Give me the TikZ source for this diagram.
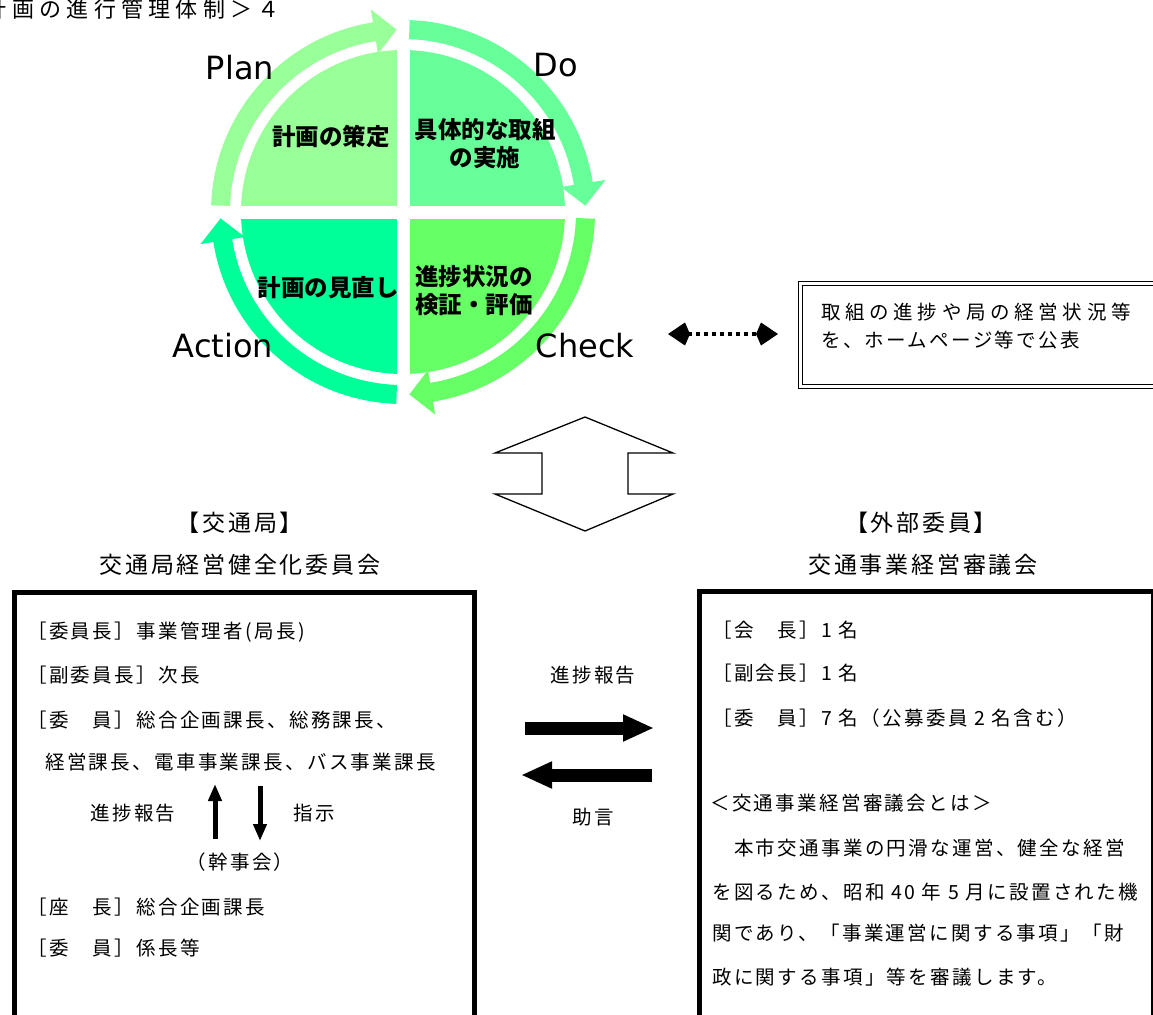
\documentclass[tikz,border=0pt]{standalone}
\usepackage{fontspec}
\setmainfont{Noto Sans CJK JP}
\newfontfamily\boxfont{Noto Sans CJK JP}[LetterSpace=12]
\newfontfamily\widefont{Noto Sans CJK JP}[LetterSpace=24]
\newfontfamily\latinfont{DejaVu Sans}
\usetikzlibrary{arrows.meta, positioning}
\definecolor{plangreen}{HTML}{99FF99}
\definecolor{dogreen}{HTML}{66FF99}
\definecolor{checkgreen}{HTML}{66FF66}
\definecolor{actgreen}{HTML}{00FF99}
\tikzset{
    x=1pt, y=-1pt, % one unit is one pixel, y runs downwards
    quadtext/.style={font=\bfseries\fontsize{23.5}{28}\selectfont, align=center, inner sep=0pt}, % text in the four quarters
    pdcalabel/.style={font=\latinfont\fontsize{32}{32}\selectfont, inner sep=0pt}, % Plan, Do, Check, Action
    titletext/.style={font=\widefont\fontsize{22}{26}\selectfont, inner sep=0pt}, % the cut title in the corner
    boxhead/.style={font=\boxfont\fontsize{23}{27}\selectfont, inner sep=0pt}, % the names above the two boards
    boxline/.style={font=\boxfont\fontsize{19.5}{23}\selectfont, inner sep=0pt, anchor=west}, % one line of board text
    boardframe/.style={draw, line width=5pt, minimum height=470pt, anchor=north west}, % open at the bottom of the page
    pubbox/.style={draw, double, line width=1pt, double distance=3pt, minimum width=360pt, minimum height=103pt, anchor=north west},
    pubtext/.style={font=\widefont\fontsize{19.5}{28}\selectfont, align=left, inner sep=0pt, anchor=west},
    blockarrow/.style={line width=13pt, -{Triangle[length=31pt, width=25pt]}}, % thick arrows between the boards
    thinarrow/.style={line width=5pt, -{Triangle[length=17pt, width=13pt]}},
    dotarrow/.style={line width=4pt, dash pattern=on 4pt off 4pt, {Kite[length=22pt, width=23pt, inset=5pt]}-{Kite[length=22pt, width=23pt, inset=5pt]}},
}
\begin{document}
\begin{tikzpicture}
\useasboundingbox (0,0) rectangle (1153,1014);
\node[titletext, anchor=east] (title) at (280,9) {計画の進行管理体制＞４};

% the PDCA circle
\begin{scope}[shift={(403,212)}, x=1pt, y=1pt]
    \begin{scope}
        \clip (0,0) circle[radius=162];
        \fill[plangreen] (-6.5,6.5) rectangle (-170,170);
        \fill[dogreen] (6.5,6.5) rectangle (170,170);
        \fill[checkgreen] (6.5,-6.5) rectangle (170,-170);
        \fill[actgreen] (-6.5,-6.5) rectangle (-170,-170);
    \end{scope}
    \foreach \s/\t/\c [evaluate=\t as \h using \t+7] in {178/92/plangreen, 88/2/dogreen, -2/-88/checkgreen, -92/-178/actgreen}
        \fill[\c] (\s:192) arc[start angle=\s, end angle=\h, radius=192] -- (\h:205) -- (\t:182.5)
            -- (\h:160) -- (\h:173) arc[start angle=\h, end angle=\s, radius=173] -- cycle;
\end{scope}
\node[pdcalabel] (plan) at (240,68) {Plan};
\node[pdcalabel] (do) at (556,65) {Do};
\node[pdcalabel] (check) at (585,346) {Check};
\node[pdcalabel] (action) at (223,346) {Action};
\node[quadtext] (plantxt) at (331,137) {計画の策定};
\node[quadtext] (dotxt) at (485,144) {具体的な取組\\の実施};
\node[quadtext] (acttxt) at (328,288) {計画の見直し};
\node[quadtext, align=left, anchor=west] (checktxt) at (415,291) {進捗状況の\\検証・評価};

% publication
\node[pubbox] (pub) at (799.5,282.5) {};
\node[pubtext] (pubtxt) at (821,326) {取組の進捗や局の経営状況等\\{\boxfont\fontsize{19.5}{28}\selectfont を、ホームページ等で公表}};
\coordinate (dotl) at (668,334);
\coordinate (dotr) at (778,334);
\draw[dotarrow] (dotl) -- (dotr);

% up-down arrow
\draw[line width=1.3pt, line join=miter] (585,417) -- (673,453) -- (628,453) -- (628,494) -- (673,494) -- (585,531)
    -- (495,494) -- (542,494) -- (542,453) -- (495,453) -- cycle;

% left board
\node[boxhead] (kotsu) at (240,523) {【交通局】};
\node[boxhead] (kotsuname) at (240,565) {交通局経営健全化委員会};
\node[boardframe, minimum width=460pt] (lbox) at (12,589.5) {};
\node[boxline] (l1) at (27,632) {［委員長］事業管理者(局長)};
\node[boxline] (l2) at (27,675) {［副委員長］次長};
\node[boxline] (l3) at (27,720) {［委　員］総合企画課長、総務課長、};
\node[boxline] (l4) at (45,762) {経営課長、電車事業課長、バス事業課長};
\node[boxline, anchor=center] (report) at (133,813) {進捗報告};
\node[boxline, anchor=center] (order) at (314,813) {指示};
\node[boxline, anchor=center] (kanji) at (240,862) {（幹事会）};
\node[boxline] (l5) at (27,907) {［座　長］総合企画課長};
\node[boxline] (l6) at (27,948) {［委　員］係長等};
\coordinate (upfoot) at (215,839);
\coordinate (uptip) at (215,784);
\coordinate (downtop) at (260,786);
\coordinate (downtip) at (260,841);
\draw[thinarrow] (upfoot) -- (uptip);
\draw[thinarrow] (downtop) -- (downtip);

% between the boards
\node[boxline, anchor=center] (midreport) at (593,675) {進捗報告};
\node[boxline, anchor=center] (advice) at (593,817) {助言};
\coordinate (rtail) at (525,728);
\coordinate (rhead) at (654,728);
\coordinate (ltail) at (652,775);
\coordinate (lhead) at (521,775);
\draw[blockarrow] (rtail) -- (rhead);
\draw[blockarrow] (ltail) -- (lhead);

% right board
\node[boxhead] (gaibu) at (921,523) {【外部委員】};
\node[boxhead] (gaibuname) at (923,565) {交通事業経営審議会};
\node[boardframe, minimum width=454pt] (rbox) at (697,588.5) {};
\node[boxline] (r1) at (712,630) {［会　長］1 名};
\node[boxline] (r2) at (712,673) {［副会長］1 名};
\node[boxline] (r3) at (712,718) {［委　員］7 名（公募委員 2 名含む）};
\node[boxline] (r4) at (710,803) {＜交通事業経営審議会とは＞};
\node[boxline] (r5) at (712,848) {　本市交通事業の円滑な運営、健全な経営};
\node[boxline] (r6) at (712,892) {を図るため、昭和 40 年 5 月に設置された機};
\node[boxline] (r7) at (712,933) {関であり、「事業運営に関する事項」「財};
\node[boxline] (r8) at (712,977) {政に関する事項」等を審議します。};
\end{tikzpicture}
\end{document}
